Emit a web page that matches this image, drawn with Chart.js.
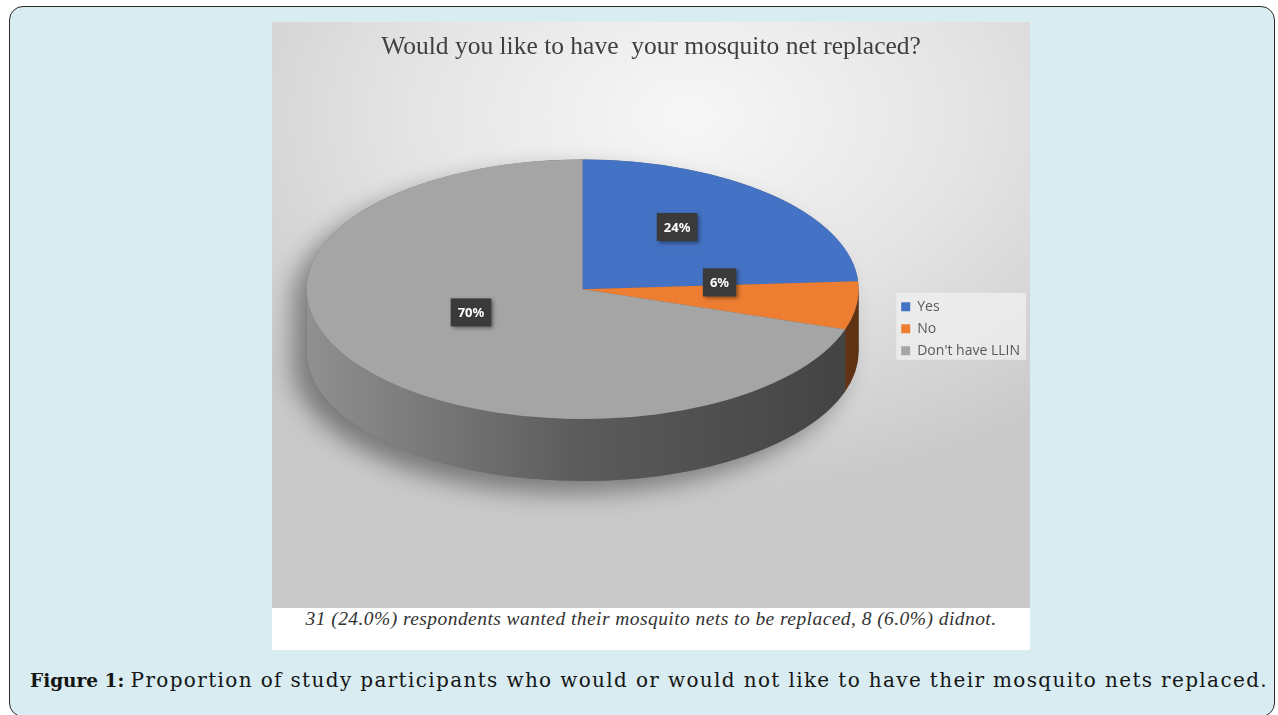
<!DOCTYPE html>
<html>
<head>
<meta charset="utf-8">
<script src="https://cdn.jsdelivr.net/npm/chart.js@4.4.1/dist/chart.umd.min.js"></script>
<style>
  html, body { margin: 0; padding: 0; background: #fff; width: 1278px; height: 715px; overflow: hidden; }
  #frame {
    position: absolute; left: 9px; top: 6px; width: 1266px; height: 711px;
    box-sizing: border-box; border: 1.5px solid #2a2a2a; border-radius: 14px; background: #d8ecf1;
  }
  #pic { position: absolute; left: 272px; top: 22px; width: 758px; height: 628px; }
  #chartBox {
    width: 758px; height: 586px;
    background: radial-gradient(ellipse 75% 65% at 55% 16%, #f7f7f7 0%, #e5e5e5 48%, #c9c9c9 100%);
  }
  #note {
    height: 42px; background: #fff; text-align: center; line-height: 46px;
    font: italic 19.5px "Liberation Serif", serif; color: #333; white-space: nowrap;
  }
  #note span { display: inline-block; }
  #fig {
    position: absolute; left: 30px; top: 668px; white-space: nowrap; color: #151515;
    font: 20px "DejaVu Serif", serif;
  }
  #fig b { font-size: 18.5px; }
</style>
</head>
<body>
<div id="frame"></div>
<div id="pic">
  <div id="chartBox"><canvas id="pieChart" width="758" height="586"></canvas></div>
  <div id="note"><span id="noteText">31 (24.0%) respondents wanted their mosquito nets to be replaced, 8 (6.0%) didnot.</span></div>
</div>
<div id="fig"><b>Figure 1:</b> <span id="figText">Proportion of study participants who would or would not like to have their mosquito nets replaced.</span></div>

<script>
// chart data
var labels = ['Yes', 'No', "Don't have LLIN"];
var shares = [24, 6, 70];

var sliceColors = ['#4472c4', '#ed7d31', '#a5a5a5'];
var TILT = 0.47;    // vertical squash of the pie top
var DEPTH = 62;     // thickness of the pie
var LIFT = 39.5;    // move the pie up from the chart area centre

function shade(hex, f) {
    var n = parseInt(hex.slice(1), 16);
    var r = Math.round(((n >> 16) & 255) * f);
    var g = Math.round(((n >> 8) & 255) * f);
    var b = Math.round((n & 255) * f);
    return 'rgb(' + r + ',' + g + ',' + b + ')';
}

// light box behind the legend entries
var legendBox = {
    id: 'legendBox',
    beforeDraw: function (chart) {
        var boxes = chart.legend && chart.legend.legendHitBoxes;
        if (!boxes || !boxes.length) return;
        var l = Infinity, t = Infinity, r = -Infinity, b = -Infinity;
        boxes.forEach(function (h) {
            l = Math.min(l, h.left); t = Math.min(t, h.top);
            r = Math.max(r, h.left + h.width); b = Math.max(b, h.top + h.height);
        });
        var ctx = chart.ctx;
        ctx.save();
        ctx.fillStyle = 'rgba(242,242,242,0.7)';
        ctx.fillRect(l - 5, t - 7, r - l + 11, b - t + 9);
        ctx.restore();
    }
};

// fake 3D: draw the walls, then squash the arcs chart.js draws into an ellipse
var pie3d = {
    id: 'pie3d',
    beforeDatasetsDraw: function (chart) {
        var ctx = chart.ctx;
        var arcs = chart.getDatasetMeta(0).data;
        var cx = arcs[0].x, cy = arcs[0].y - LIFT;
        var rx = arcs[0].outerRadius, ry = rx * TILT;

        // soft shadow under the cylinder
        ctx.save();
        ctx.shadowColor = 'rgba(0,0,0,0.4)';
        ctx.shadowBlur = 24;
        ctx.shadowOffsetX = -14;
        ctx.shadowOffsetY = 12;
        ctx.beginPath();
        ctx.ellipse(cx, cy, rx, ry, 0, Math.PI, 2 * Math.PI);
        ctx.ellipse(cx, cy + DEPTH, rx, ry, 0, 0, Math.PI);
        ctx.closePath();
        ctx.fillStyle = '#666';
        ctx.fill();
        ctx.restore();

        // front walls of each slice
        arcs.forEach(function (arc, i) {
            var col = sliceColors[i];
            var grad = ctx.createLinearGradient(cx - rx, 0, cx + rx, 0);
            grad.addColorStop(0, shade(col, 0.87));
            grad.addColorStop(0.5, shade(col, 0.55));
            grad.addColorStop(1, shade(col, 0.4));
            [[0, Math.PI], [2 * Math.PI, 3 * Math.PI]].forEach(function (range) {
                var a = Math.max(arc.startAngle, range[0]);
                var b = Math.min(arc.endAngle, range[1]);
                if (b <= a) return;
                ctx.beginPath();
                ctx.ellipse(cx, cy, rx, ry, 0, a, b);
                ctx.ellipse(cx, cy + DEPTH, rx, ry, 0, b, a, true);
                ctx.closePath();
                ctx.fillStyle = grad;
                ctx.fill();
            });
        });

        ctx.save();
        ctx.translate(cx, cy);
        ctx.scale(1, TILT);
        ctx.translate(-arcs[0].x, -arcs[0].y);
    },
    afterDatasetsDraw: function (chart) {
        var ctx = chart.ctx;
        ctx.restore();
        var arcs = chart.getDatasetMeta(0).data;
        var cx = arcs[0].x, cy = arcs[0].y - LIFT;
        var total = shares.reduce(function (s, v) { return s + v; }, 0);

        // data labels in dark boxes
        arcs.forEach(function (arc, i) {
            var mid = (arc.startAngle + arc.endAngle) / 2;
            var r = arc.outerRadius * 0.5;
            var x = cx + r * Math.cos(mid);
            var y = cy + r * TILT * Math.sin(mid) - 15;
            var txt = Math.round(shares[i] / total * 100) + '%';
            ctx.font = 'bold 13px "Noto Sans"';
            var w = ctx.measureText(txt).width + 14, h = 28;
            ctx.save();
            ctx.shadowColor = 'rgba(0,0,0,0.45)';
            ctx.shadowBlur = 4;
            ctx.shadowOffsetX = 2;
            ctx.shadowOffsetY = 2;
            ctx.fillStyle = '#3a3a3a';
            ctx.fillRect(x - w / 2, y - h / 2, w, h);
            ctx.restore();
            ctx.fillStyle = '#fff';
            ctx.textAlign = 'center';
            ctx.textBaseline = 'middle';
            ctx.fillText(txt, x, y + 1);
        });
    }
};

var ctx = document.getElementById('pieChart').getContext('2d');

var pieChart = new Chart(ctx, {
    type: 'pie',
    data: {
        labels: labels,
        datasets: [{
            data: shares,
            backgroundColor: sliceColors,
            borderWidth: 0,
            radius: 276,
            clip: false
        }]
    },
    options: {
        responsive: false,
        animation: false,
        devicePixelRatio: 1,
        layout: { padding: { bottom: 23 } },
        plugins: {
            title: {
                display: true,
                text: 'Would you like to have  your mosquito net replaced?',
                color: '#404040',
                font: { family: '"Liberation Serif", serif', size: 25.5, weight: 'normal' },
                padding: { top: 10, bottom: 10 }
            },
            legend: {
                position: 'right',
                fullSize: false,
                labels: {
                    boxWidth: 9,
                    boxHeight: 9,
                    padding: 8,
                    color: '#595959',
                    font: { family: '"Open Sans"', size: 14 }
                }
            },
            tooltip: { enabled: false }
        }
    },
    plugins: [legendBox, pie3d]
});

// stretch the caption lines to the widths they have in the figure
function fitWidth(el, target) {
    var w = el.getBoundingClientRect().width;
    el.style.letterSpacing = ((target - w) / el.textContent.length) + 'px';
}
fitWidth(document.getElementById('noteText'), 691);
var figText = document.getElementById('figText');
fitWidth(figText, 1268 - figText.getBoundingClientRect().left);
</script>
</body>
</html>
